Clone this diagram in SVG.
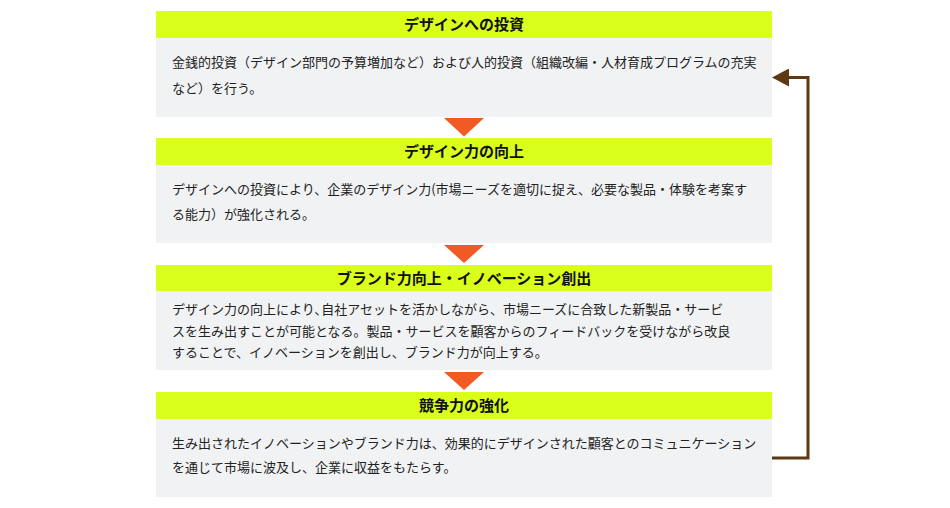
<svg xmlns="http://www.w3.org/2000/svg" width="950" height="508" viewBox="0 0 950 508">
<style>
.hd{fill:#d9ff1a}
.bd{fill:#f1f2f4}
.tri{fill:#f15a22}
.ht{font-family:"Noto Sans CJK JP","Noto Sans",sans-serif;font-size:15px;font-weight:bold;fill:#111;text-anchor:middle}
.bt{font-family:"Noto Sans CJK JP","Noto Sans",sans-serif;font-size:13px;fill:#222}
.conn{fill:none;stroke:#5e3a14;stroke-width:3}
</style>
<defs>
<marker id="ah" markerUnits="userSpaceOnUse" markerWidth="17" markerHeight="18" refX="1" refY="9" orient="auto">
<path d="M0,0 L17,9 L0,18 Z" fill="#5e3a14"/>
</marker>
</defs>
<rect width="950" height="508" fill="#fff"/>
<g id="node1">
<rect class="hd" x="156" y="11" width="616" height="27"/>
<rect class="bd" x="156" y="38" width="616" height="79"/>
<text class="ht" x="464" y="30">デザインへの投資</text>
<text class="bt" x="172" y="67">金銭的投資（デザイン部門の予算増加など）および人的投資（組織改編・人材育成プログラムの充実</text>
<text class="bt" x="172" y="93">など）を行う。</text>
</g>
<g id="node2">
<rect class="hd" x="156" y="138" width="616" height="27"/>
<rect class="bd" x="156" y="165" width="616" height="78"/>
<text class="ht" x="464" y="157">デザイン力の向上</text>
<text class="bt" x="172" y="194">デザインへの投資により、企業のデザイン力(市場ニーズを適切に捉え、必要な製品・体験を考案す</text>
<text class="bt" x="172" y="219">る能力）が強化される。</text>
</g>
<g id="node3">
<rect class="hd" x="156" y="265" width="616" height="26"/>
<rect class="bd" x="156" y="291" width="616" height="79"/>
<text class="ht" x="464" y="283.5">ブランド力向上・イノベーション創出</text>
<text class="bt" x="172" y="314">デザイン力の向上により､自社アセットを活かしながら、市場ニーズに合致した新製品・サービ</text>
<text class="bt" x="172" y="336">スを生み出すことが可能となる。製品・サービスを顧客からのフィードバックを受けながら改良</text>
<text class="bt" x="172" y="357">することで、イノベーションを創出し、ブランド力が向上する。</text>
</g>
<g id="node4">
<rect class="hd" x="156" y="392" width="616" height="27"/>
<rect class="bd" x="156" y="419" width="616" height="78"/>
<text class="ht" x="464" y="411">競争力の強化</text>
<text class="bt" x="172" y="448">生み出されたイノベーションやブランド力は、効果的にデザインされた顧客とのコミュニケーション</text>
<text class="bt" x="172" y="472">を通じて市場に波及し、企業に収益をもたらす。</text>
</g>
<g id="connectors">
<path class="tri" d="M444,118 L484,118 L464,136.5 Z"/>
<path class="tri" d="M444,245 L484,245 L464,263 Z"/>
<path class="tri" d="M444,372 L484,372 L464,390 Z"/>
<path class="conn" d="M772,458 H808 V77.5 H788" marker-end="url(#ah)"/>
</g>
</svg>
